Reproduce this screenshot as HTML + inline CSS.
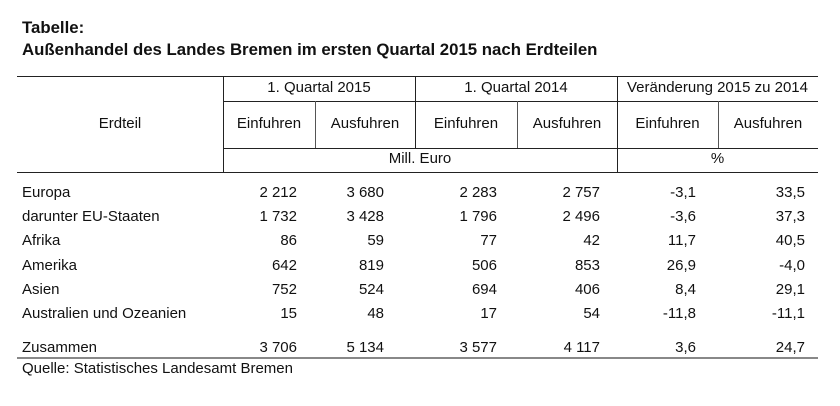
<!DOCTYPE html>
<html><head><meta charset="utf-8"><style>
body{margin:0;width:840px;height:406px;background:#fff;position:relative;font-family:"Liberation Sans",sans-serif;color:#111;overflow:hidden}
.t{position:absolute;font-size:15px;line-height:16px;white-space:nowrap}
.b{font-weight:bold;font-size:16.8px;line-height:18px}
.h{position:absolute;height:1px;background:#222}
.v{position:absolute;width:1px;background:#555}
.r{text-align:right}
.c{text-align:center}
</style></head><body>
<div class="t b" style="left:22px;top:19px">Tabelle:</div>
<div class="t b" style="left:22px;top:41px">Außenhandel des Landes Bremen im ersten Quartal 2015 nach Erdteilen</div>

<div class="h" style="left:17px;width:801px;top:76px"></div>
<div class="h" style="left:223px;width:595px;top:101px"></div>
<div class="h" style="left:223px;width:595px;top:148px"></div>
<div class="h" style="left:17px;width:801px;top:172px"></div>
<div class="h" style="left:17px;width:801px;top:357px;height:2px;background:#888"></div>

<div class="v" style="left:223px;top:76px;height:96px;background:#222"></div>
<div class="v" style="left:415px;top:76px;height:72px;background:#222"></div>
<div class="v" style="left:617px;top:76px;height:96px;background:#222"></div>
<div class="v" style="left:315px;top:101px;height:47px"></div>
<div class="v" style="left:517px;top:101px;height:47px"></div>
<div class="v" style="left:718px;top:101px;height:47px"></div>

<div class="t c" style="left:17px;width:206px;top:116px">Erdteil</div>
<div class="t c" style="left:223px;width:192px;top:80px">1. Quartal 2015</div>
<div class="t c" style="left:415px;width:202px;top:80px">1. Quartal 2014</div>
<div class="t c" style="left:617px;width:201px;top:80px">Veränderung 2015 zu 2014</div>
<div class="t c" style="left:223px;width:92px;top:116px">Einfuhren</div>
<div class="t c" style="left:315px;width:100px;top:116px">Ausfuhren</div>
<div class="t c" style="left:415px;width:102px;top:116px">Einfuhren</div>
<div class="t c" style="left:517px;width:100px;top:116px">Ausfuhren</div>
<div class="t c" style="left:617px;width:101px;top:116px">Einfuhren</div>
<div class="t c" style="left:718px;width:100px;top:116px">Ausfuhren</div>
<div class="t c" style="left:223px;width:394px;top:151px">Mill. Euro</div>
<div class="t c" style="left:617px;width:201px;top:151px">%</div>

<div id="rows"></div>
<script>
var rows=[
["Europa","2 212","3 680","2 283","2 757","-3,1","33,5",185],
["darunter EU-Staaten","1 732","3 428","1 796","2 496","-3,6","37,3",209],
["Afrika","86","59","77","42","11,7","40,5",233],
["Amerika","642","819","506","853","26,9","-4,0",258],
["Asien","752","524","694","406","8,4","29,1",282],
["Australien und Ozeanien","15","48","17","54","-11,8","-11,1",306],
["Zusammen","3 706","5 134","3 577","4 117","3,6","24,7",340]];
var rights=[297,384,497,600,696,805];
var h="";
rows.forEach(function(r){
 h+='<div class="t" style="left:22px;top:'+r[7]+'px">'+r[0]+'</div>';
 for(var i=0;i<6;i++) h+='<div class="t r" style="left:'+(rights[i]-90)+'px;width:90px;top:'+r[7]+'px">'+r[i+1]+'</div>';
});
document.getElementById("rows").innerHTML=h;
</script>
<div class="t" style="left:22px;top:361px">Quelle: Statistisches Landesamt Bremen</div>
</body></html>
